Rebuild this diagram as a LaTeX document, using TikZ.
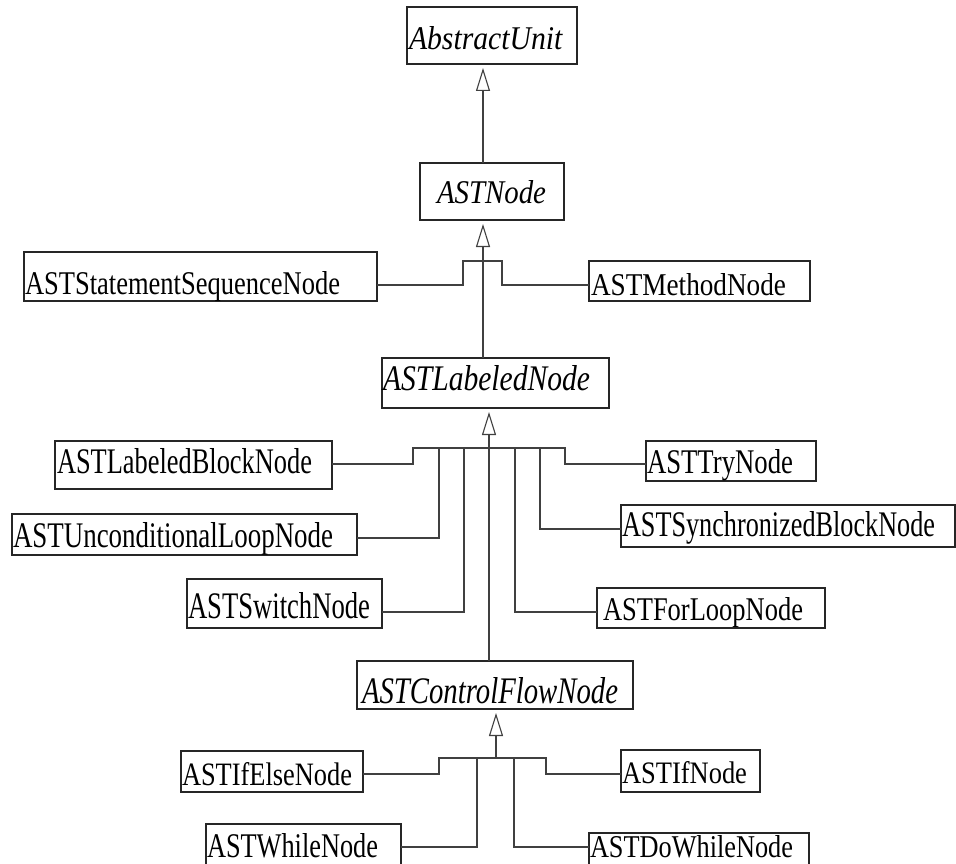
\documentclass[tikz,border=0pt]{standalone}
\usepackage{fontspec}
\setmainfont{Liberation Serif}
\usepackage{graphicx}
\usetikzlibrary{arrows.meta}
\tikzset{
  box/.style={draw=black!85, line width=1.2pt, fill=white, inner sep=0pt, outer sep=0pt, anchor=north west},
  lbl/.style={anchor=base west, inner sep=0pt, outer sep=0pt},
  conn/.style={draw=black!75, line width=1.1pt},
  inh/.style={conn, -{Triangle[open, length=23pt, width=14pt, line width=1.1pt]}, shorten >=4pt},
}
\begin{document}
\begin{tikzpicture}[x=1pt, y=-1pt]
\useasboundingbox (0,0) rectangle (956,864);
\fill[white] (0,0) rectangle (956,864);
\clip (0,0) rectangle (956,864);

% spine and bar coordinates
\coordinate (s1) at (483,0);
\coordinate (s2) at (489,0);
\coordinate (s3) at (496,0);
\coordinate (b2l) at (463,261);
\coordinate (b2r) at (502,261);
\coordinate (b3l) at (413,448);
\coordinate (b3a) at (439,448);
\coordinate (b3b) at (464,448);
\coordinate (b3c) at (515,448);
\coordinate (b3d) at (540,448);
\coordinate (b3r) at (565,448);
\coordinate (b4l) at (439,758);
\coordinate (b4a) at (477,758);
\coordinate (b4s) at (496,758);
\coordinate (b4c) at (514,758);
\coordinate (b4r) at (546,758);

% boxes
\node[box, minimum width=170pt, minimum height=57pt] (au) at (407,7) {};
\node[lbl] (au-t) at (409,50) {\resizebox{154pt}{23pt}{\textit{AbstractUnit}}};

\node[box, minimum width=144pt, minimum height=57pt] (an) at (420,163) {};
\node[lbl] (an-t) at (437,203) {\resizebox{109pt}{23pt}{\textit{ASTNode}}};

\node[box, minimum width=353pt, minimum height=49pt] (ssn) at (24,252) {};
\node[lbl] (ssn-t) at (25,294) {\resizebox{315pt}{23pt}{ASTStatementSequenceNode}};

\node[box, minimum width=221pt, minimum height=40pt] (mn) at (589,261) {};
\node[lbl] (mn-t) at (591,295) {\resizebox{195pt}{22pt}{ASTMethodNode}};

\node[box, minimum width=227pt, minimum height=50pt] (ln) at (382,358) {};
\node[lbl] (ln-t) at (383,390) {\resizebox{207pt}{25pt}{\textit{ASTLabeledNode}}};

\node[box, minimum width=277pt, minimum height=48pt] (lbn) at (55,441) {};
\node[lbl] (lbn-t) at (57,473) {\resizebox{255pt}{25pt}{ASTLabeledBlockNode}};

\node[box, minimum width=345pt, minimum height=41pt] (uln) at (12,514) {};
\node[lbl] (uln-t) at (13,547) {\resizebox{320pt}{25pt}{ASTUnconditionalLoopNode}};

\node[box, minimum width=195pt, minimum height=49pt] (swn) at (187,579) {};
\node[lbl] (swn-t) at (188,618) {\resizebox{182pt}{26pt}{ASTSwitchNode}};

\node[box, minimum width=170pt, minimum height=40pt] (tn) at (646,441) {};
\node[lbl] (tn-t) at (647,473) {\resizebox{146pt}{24pt}{ASTTryNode}};

\node[box, minimum width=334pt, minimum height=42pt] (syn) at (621,505) {};
\node[lbl] (syn-t) at (622,536) {\resizebox{313pt}{25pt}{ASTSynchronizedBlockNode}};

\node[box, minimum width=228pt, minimum height=40pt] (fln) at (597,588) {};
\node[lbl] (fln-t) at (603,620) {\resizebox{200pt}{23pt}{ASTForLoopNode}};

\node[box, minimum width=276pt, minimum height=48pt] (cfn) at (357,661) {};
\node[lbl] (cfn-t) at (362,703) {\resizebox{256pt}{26pt}{\textit{ASTControlFlowNode}}};

\node[box, minimum width=182pt, minimum height=41pt] (ien) at (181,751) {};
\node[lbl] (ien-t) at (182,785) {\resizebox{170pt}{23pt}{ASTIfElseNode}};

\node[box, minimum width=139pt, minimum height=42pt] (ifn) at (621,750) {};
\node[lbl] (ifn-t) at (622,783) {\resizebox{125pt}{22pt}{ASTIfNode}};

\node[box, minimum width=195pt, minimum height=50pt] (wn) at (206,824) {};
\node[lbl] (wn-t) at (207,857) {\resizebox{171pt}{24pt}{ASTWhileNode}};

\node[box, minimum width=220pt, minimum height=40pt] (dwn) at (589,833) {};
\node[lbl] (dwn-t) at (590,857) {\resizebox{203pt}{22pt}{ASTDoWhileNode}};

% inheritance arrows
\draw[inh] (an.north -| s1) -- (au.south -| s1);
\draw[inh] (ln.north -| s1) -- (an.south -| s1);
\draw[inh] (cfn.north -| s2) -- (ln.south -| s2);
\draw[inh] (b4s) -- (cfn.south -| s3);

% level 2 connectors
\draw[conn] ([yshift=16pt]ssn.south east) -| (b2l) -- (b2r) |- ([yshift=16pt]mn.south west);

% level 3 connectors
\draw[conn] ([yshift=25pt]lbn.south east) -| (b3l) -- (b3r) |- ([yshift=17pt]tn.south west);
\draw[conn] ([yshift=17pt]uln.south east) -| (b3a);
\draw[conn] ([yshift=16pt]swn.south east) -| (b3b);
\draw[conn] (b3c) |- ([yshift=16pt]fln.south west);
\draw[conn] (b3d) |- ([yshift=18pt]syn.south west);

% level 4 connectors
\draw[conn] ([yshift=18pt]ien.south east) -| (b4l) -- (b4r) |- ([yshift=18pt]ifn.south west);
\draw[conn] ([yshift=-23pt]wn.north east) -| (b4a);
\draw[conn] (b4c) |- ([yshift=-14pt]dwn.north west);
\end{tikzpicture}
\end{document}
